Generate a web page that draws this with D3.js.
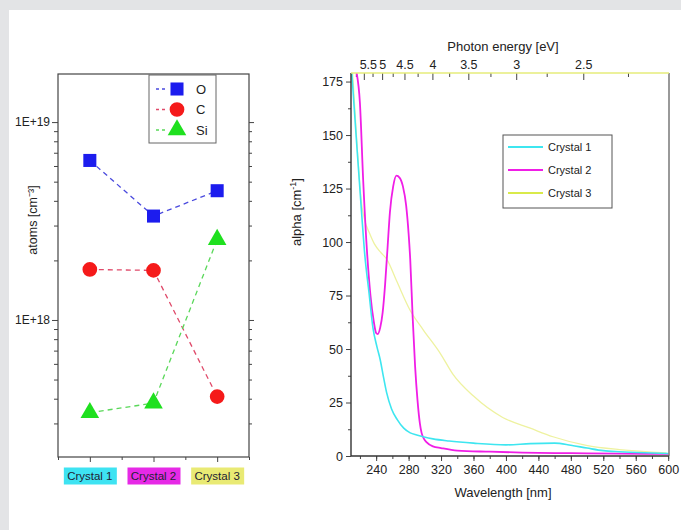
<!DOCTYPE html>
<html>
<head>
<meta charset="utf-8">
<script src="https://cdn.jsdelivr.net/npm/d3@7"></script>
<style>
  body { margin: 0; background: #e3e4e6; }
  svg { display: block; font-family: "Liberation Sans", Arial, sans-serif; }
</style>
</head>
<body>
<svg width="681" height="530"></svg>
<script>
// --- left chart data (atoms per cm^3) ---
var crystals = ["Crystal 1", "Crystal 2", "Crystal 3"];
var crystalColors = ["#3ee3f2", "#e629e6", "#e9ea74"];
var oxygen = [6.4e18, 3.35e18, 4.5e18];
var carbon = [1.8e18, 1.78e18, 4.1e17];
var silicon = [3.4e17, 3.8e17, 2.55e18];

// --- right chart data (absorption spectra) ---
var c1Wl = [210, 216, 222, 226, 231, 236, 241, 245, 249, 253, 259, 266, 274, 282, 290, 298, 310, 330, 360, 400, 430, 460, 480, 500, 520, 540, 570, 600];
var c1Alpha = [179, 146, 114, 94, 77, 60, 51, 45, 37, 29.5, 22, 17, 13, 10.8, 9.8, 9, 8, 7, 6, 5.2, 5.8, 6, 5, 3.7, 2.5, 2, 1.5, 1.2];
var c2Wl = [216, 220, 224, 229, 233, 237, 240, 242, 245, 248, 251, 254, 257, 261, 265, 269, 273, 277, 280, 282, 285, 288, 291, 294, 296, 299, 302, 310, 320, 340, 380, 420, 480, 540, 600];
var c2Alpha = [179, 165, 129, 94, 75, 63, 57.5, 57, 60, 67, 80, 97, 114, 126, 131, 130, 126, 117, 104, 92, 65, 42, 26, 15, 10.8, 8, 6.5, 4.5, 3.7, 2.5, 2, 1.6, 1.3, 1.1, 1];
var c3Wl = [211, 216, 222, 226, 232, 238, 246, 253, 265, 282, 298, 319, 335, 360, 396, 430, 458, 499, 540, 598];
var c3Alpha = [179, 148, 118, 110, 104, 99, 95, 92, 82, 68, 59, 48, 38, 28, 18, 13, 9, 5, 3, 1.5];

var lambdaTicks = [240, 280, 320, 360, 400, 440, 480, 520, 560, 600];
var energyTicks = [5.5, 5, 4.5, 4, 3.5, 3, 2.5];
var alphaTicks = [0, 25, 50, 75, 100, 125, 150, 175];

var svg = d3.select("svg");

svg.append("rect")
    .attr("x", 9).attr("y", 10)
    .attr("width", 672).attr("height", 520)
    .attr("fill", "#fff");

// ================= left chart =================
var lx = d3.scaleLinear().domain([0.5, 3.5]).range([58, 249]);
var ly = d3.scaleLog().domain([2.03e17, 1.75e19]).range([457, 74]);

var left = svg.append("g");

left.append("rect")
    .attr("x", 58).attr("y", 74)
    .attr("width", 191).attr("height", 383)
    .attr("fill", "none")
    .attr("stroke", "#444")
    .attr("stroke-width", 1.2);

var yMinor = [];
[1e17, 1e18].forEach(function(dec) {
  for (var k = 2; k <= 9; k++) {
    var v = k * dec;
    if (v >= ly.domain()[0] && v <= ly.domain()[1]) yMinor.push(v);
  }
});

left.append("g")
    .attr("transform", "translate(58,0)")
    .call(d3.axisLeft(ly).tickValues(yMinor).tickSize(4).tickFormat(""))
    .call(function(g) { g.select(".domain").remove(); });
left.append("g")
    .attr("transform", "translate(58,0)")
    .call(d3.axisLeft(ly).tickValues([1e18, 1e19]).tickSize(6).tickPadding(2)
      .tickFormat(function(d) { return "1E+" + Math.round(Math.log10(d)); }))
    .call(function(g) { g.select(".domain").remove(); });
left.append("g")
    .attr("transform", "translate(249,0)")
    .call(d3.axisRight(ly).tickValues(yMinor).tickSize(3).tickFormat(""))
    .call(function(g) { g.select(".domain").remove(); });
left.append("g")
    .attr("transform", "translate(249,0)")
    .call(d3.axisRight(ly).tickValues([1e18, 1e19]).tickSize(5).tickFormat(""))
    .call(function(g) { g.select(".domain").remove(); });

left.append("g")
    .attr("transform", "translate(0,457)")
    .call(d3.axisBottom(lx).tickValues([0.5, 1.5, 2.5, 3.5]).tickSize(3).tickFormat(""))
    .call(function(g) { g.select(".domain").remove(); });
left.append("g")
    .attr("transform", "translate(0,457)")
    .call(d3.axisBottom(lx).tickValues([1, 2, 3]).tickSize(5).tickFormat(""))
    .call(function(g) { g.select(".domain").remove(); });

left.selectAll(".tick line").attr("stroke", "#444");
left.selectAll(".tick text").attr("font-size", 12).attr("fill", "#222");

// category labels with coloured backgrounds
var cat = left.selectAll(".cat")
    .data(crystals)
  .enter().append("g")
    .attr("transform", function(d, i) { return "translate(" + lx(i + 1) + ",476)"; });
cat.append("rect")
    .attr("x", -26).attr("y", -8.5)
    .attr("width", 53).attr("height", 17)
    .attr("fill", function(d, i) { return crystalColors[i]; });
cat.append("text")
    .attr("text-anchor", "middle")
    .attr("dy", "0.35em")
    .attr("font-size", 11.5)
    .attr("fill", "#223")
    .text(function(d) { return d; });

left.append("text")
    .attr("transform", "translate(37,220) rotate(-90)")
    .attr("text-anchor", "middle")
    .attr("font-size", 12.5)
    .attr("fill", "#222")
    .text("atoms [cm⁻³]");

var elements = [
  { name: "O", values: oxygen, color: "#1c1cee", line: "#4a4ade", symbol: d3.symbolSquare, size: 170 },
  { name: "C", values: carbon, color: "#f51a1a", line: "#e04a6a", symbol: d3.symbolCircle, size: 170 },
  { name: "Si", values: silicon, color: "#1fe01f", line: "#5ad85a", symbol: d3.symbolTriangle, size: 150 }
];

var elLine = d3.line()
    .x(function(d, i) { return lx(i + 1); })
    .y(function(d) { return ly(d); });

elements.forEach(function(el) {
  left.append("path")
      .attr("d", elLine(el.values))
      .attr("fill", "none")
      .attr("stroke", el.line)
      .attr("stroke-width", 1.3)
      .attr("stroke-dasharray", "5,4");
  left.selectAll(null)
      .data(el.values)
    .enter().append("path")
      .attr("transform", function(d, i) { return "translate(" + lx(i + 1) + "," + ly(d) + ")"; })
      .attr("d", d3.symbol().type(el.symbol).size(el.size))
      .attr("fill", el.color);
});

var lleg = left.append("g");
lleg.append("rect")
    .attr("x", 149).attr("y", 75)
    .attr("width", 67).attr("height", 68)
    .attr("fill", "#fff")
    .attr("stroke", "#666");
elements.forEach(function(el, i) {
  var yy = 89 + i * 20.5;
  lleg.append("line")
      .attr("x1", 156).attr("x2", 166)
      .attr("y1", yy).attr("y2", yy)
      .attr("stroke", el.line)
      .attr("stroke-width", 1.3)
      .attr("stroke-dasharray", "3,3");
  lleg.append("path")
      .attr("transform", "translate(177," + yy + ")")
      .attr("d", d3.symbol().type(el.symbol).size(el.size))
      .attr("fill", el.color);
  lleg.append("text")
      .attr("x", 196).attr("y", yy)
      .attr("dy", "0.35em")
      .attr("font-size", 13)
      .attr("fill", "#222")
      .text(el.name);
});

// ================= right chart =================
var rx = d3.scaleLinear().domain([209, 601]).range([351, 669]);
var ry = d3.scaleLinear().domain([0, 179]).range([456, 73]);

var right = svg.append("g");

right.append("clipPath")
    .attr("id", "clip")
  .append("rect")
    .attr("x", 351).attr("y", 73)
    .attr("width", 318).attr("height", 383);

right.append("g")
    .attr("transform", "translate(0,456)")
    .call(d3.axisBottom(rx).tickValues(d3.range(220, 601, 20)).tickSize(3).tickFormat(""))
    .call(function(g) { g.select(".domain").remove(); });
right.append("g")
    .attr("transform", "translate(0,456)")
    .call(d3.axisBottom(rx).tickValues(lambdaTicks).tickSize(5).tickPadding(4).tickFormat(d3.format("d")))
    .call(function(g) { g.select(".domain").remove(); });

right.append("g")
    .attr("transform", "translate(351,0)")
    .call(d3.axisLeft(ry).tickValues(d3.range(12.5, 179, 25)).tickSize(3).tickFormat(""))
    .call(function(g) { g.select(".domain").remove(); });
right.append("g")
    .attr("transform", "translate(351,0)")
    .call(d3.axisLeft(ry).tickValues(alphaTicks).tickSize(5).tickPadding(3))
    .call(function(g) { g.select(".domain").remove(); });

right.selectAll(".tick line").attr("stroke", "#444");
right.selectAll(".tick text").attr("font-size", 12.5).attr("fill", "#222");

// top axis: photon energy, E = 1239.84 / lambda
var toNm = function(e) { return 1239.84 / e; };
var topAxis = right.append("g");
topAxis.selectAll(".minor")
    .data([5.75, 5.25, 4.75, 4.25, 3.75, 3.25, 2.75, 2.25])
  .enter().append("line")
    .attr("x1", function(d) { return rx(toNm(d)); })
    .attr("x2", function(d) { return rx(toNm(d)); })
    .attr("y1", 73).attr("y2", 77)
    .attr("stroke", "#444");
topAxis.selectAll(".major")
    .data(energyTicks)
  .enter().append("line")
    .attr("x1", function(d) { return rx(toNm(d)); })
    .attr("x2", function(d) { return rx(toNm(d)); })
    .attr("y1", 73).attr("y2", 80)
    .attr("stroke", "#444");
topAxis.selectAll(".lab")
    .data(energyTicks)
  .enter().append("text")
    .attr("x", function(d) { return rx(toNm(d)) + (d === 5.5 ? 4 : 0); })
    .attr("y", 69)
    .attr("text-anchor", "middle")
    .attr("font-size", 12.5)
    .attr("fill", "#222")
    .text(function(d) { return d; });

var rline = d3.line()
    .x(function(d) { return rx(d[0]); })
    .y(function(d) { return ry(d[1]); })
    .curve(d3.curveMonotoneX);

var spectra = [
  { name: "Crystal 1", wl: c1Wl, alpha: c1Alpha, color: "#3ee6f0", width: 1.6 },
  { name: "Crystal 2", wl: c2Wl, alpha: c2Alpha, color: "#f01ee6", width: 1.8 },
  { name: "Crystal 3", wl: c3Wl, alpha: c3Alpha, color: "#eef2a0", width: 1.3 }
];

spectra.slice().reverse().forEach(function(s) {
  right.append("path")
      .attr("clip-path", "url(#clip)")
      .attr("d", rline(d3.zip(s.wl, s.alpha)))
      .attr("fill", "none")
      .attr("stroke", s.color)
      .attr("stroke-width", s.width);
});

// frame
right.append("line")
    .attr("x1", 351).attr("x2", 351).attr("y1", 73).attr("y2", 456)
    .attr("stroke", "#333").attr("stroke-width", 1.4);
right.append("line")
    .attr("x1", 351).attr("x2", 669).attr("y1", 456).attr("y2", 456)
    .attr("stroke", "#333").attr("stroke-width", 1.4);
right.append("line")
    .attr("x1", 669).attr("x2", 669).attr("y1", 73).attr("y2", 456)
    .attr("stroke", "#555").attr("stroke-width", 1.2);
right.append("line")
    .attr("x1", 351).attr("x2", 669).attr("y1", 73).attr("y2", 73)
    .attr("stroke", "#e6ec7a").attr("stroke-width", 1.4);

right.append("text")
    .attr("x", 503).attr("y", 51)
    .attr("text-anchor", "middle")
    .attr("font-size", 13)
    .attr("fill", "#222")
    .text("Photon energy [eV]");
right.append("text")
    .attr("x", 503).attr("y", 497)
    .attr("text-anchor", "middle")
    .attr("font-size", 13)
    .attr("fill", "#222")
    .text("Wavelength [nm]");
right.append("text")
    .attr("transform", "translate(301,212) rotate(-90)")
    .attr("text-anchor", "middle")
    .attr("font-size", 13)
    .attr("fill", "#222")
    .html("alpha [cm<tspan dy='-5' font-size='9'>-1</tspan><tspan dy='5'>]</tspan>");

var rleg = right.append("g");
rleg.append("rect")
    .attr("x", 503).attr("y", 135)
    .attr("width", 109).attr("height", 73)
    .attr("fill", "#fff")
    .attr("stroke", "#555");
spectra.forEach(function(s, i) {
  var yy = 147 + i * 23;
  rleg.append("line")
      .attr("x1", 508).attr("x2", 543)
      .attr("y1", yy).attr("y2", yy)
      .attr("stroke", i === 2 ? "#d9ea4a" : s.color)
      .attr("stroke-width", 2);
  rleg.append("text")
      .attr("x", 548).attr("y", yy)
      .attr("dy", "0.35em")
      .attr("font-size", 11)
      .attr("fill", "#222")
      .text(s.name);
});
</script>
</body>
</html>
